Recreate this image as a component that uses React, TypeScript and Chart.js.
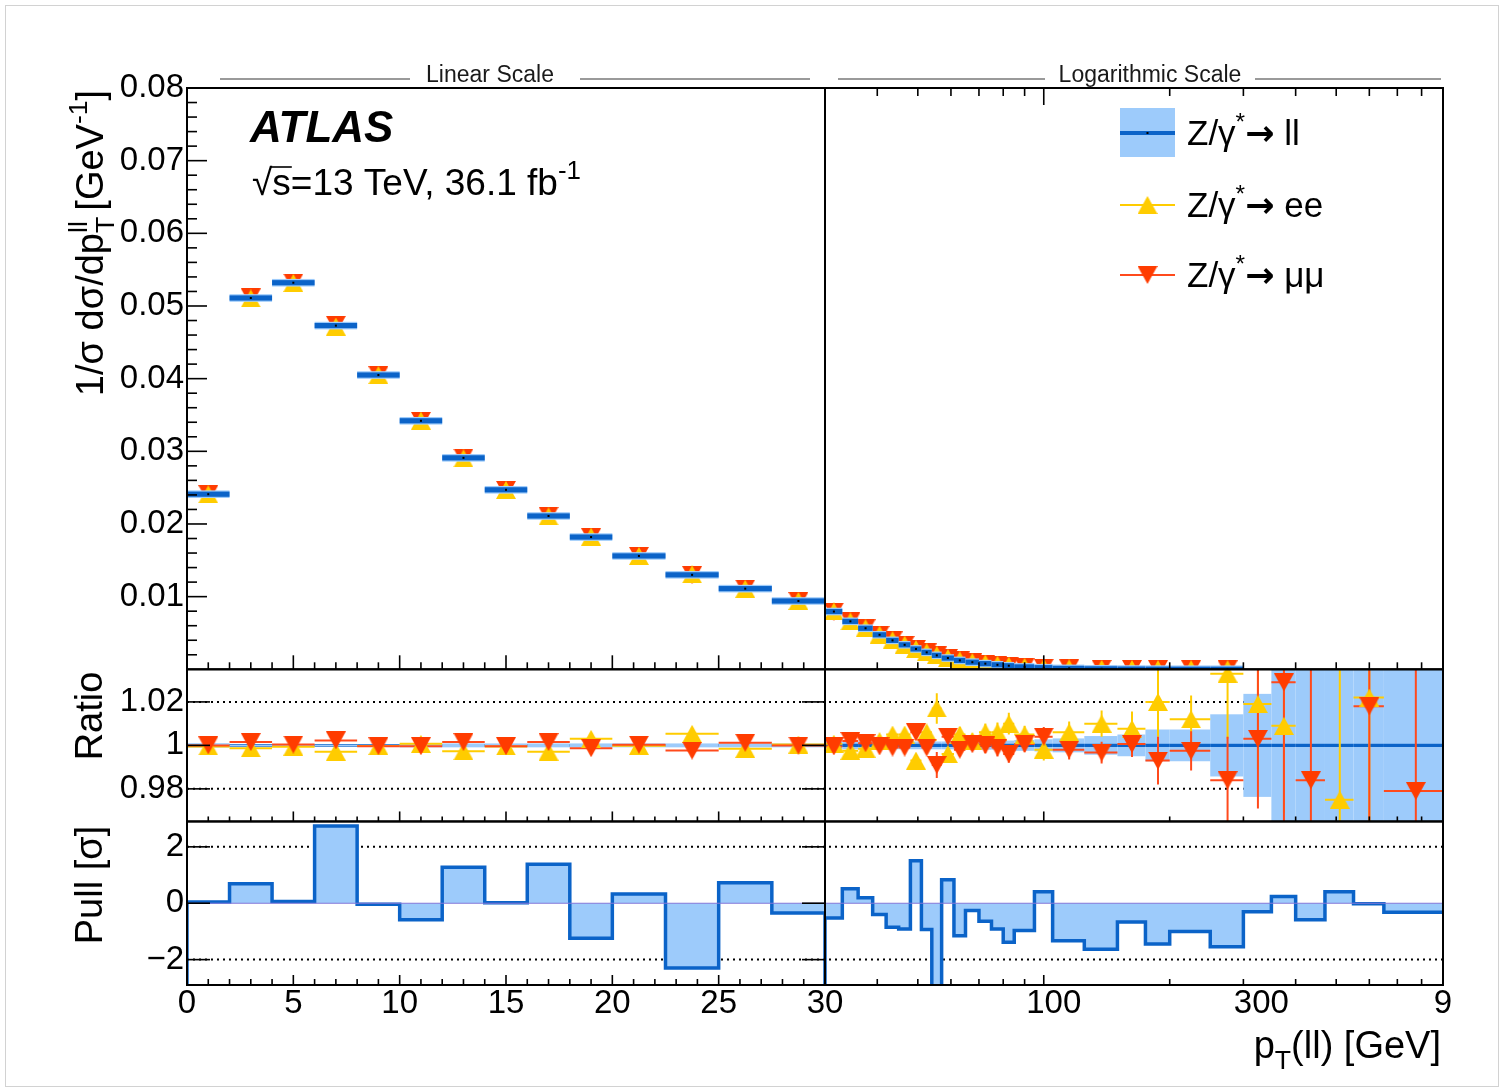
import React, { useEffect, useRef } from 'react';
import { Chart, registerables } from 'chart.js';

Chart.register(...registerables);

// ---------------- data ----------------
const LIN_EDGES = [0, 2, 4, 6, 8, 10, 12, 14, 16, 18, 20, 22.5, 25, 27.5, 30];
const LOG_EDGES = [30, 33, 36, 39, 42, 45, 48, 51, 54, 57, 61, 65, 70, 75, 80, 85, 95, 105, 125, 150, 175, 200, 250, 300, 350, 400, 470, 550, 650, 900];

// 1/sigma dsigma/dpT (combined ll)
const LL_LIN = [0.0241, 0.0511, 0.0532, 0.0473, 0.0405, 0.0342, 0.0291, 0.0247, 0.0211, 0.0182, 0.0156, 0.0130, 0.0111, 0.0094];
const LL_LOG = [0.00795, 0.0066, 0.00565, 0.00475, 0.00398, 0.00337, 0.0028, 0.00233, 0.00192, 0.00155, 0.00122, 0.00098, 0.00078, 0.00062, 0.00049, 0.00033, 0.00022, 0.000125, 0.000065, 0.000035, 0.00002, 0.00001, 0.0000055, 0.0000025, 0.0000012, 0.0000006, 0.00000028, 0.00000012, 0.00000003];

// ratios to combined
const RATIO_EE_LIN = [0.9995, 0.9987, 0.9994, 0.9971, 0.9997, 1.0007, 0.9973, 0.9995, 0.9971, 1.003, 0.9998, 1.0053, 0.9984, 1.0004];
const RATIO_MM_LIN = [1.0, 1.0015, 1.0004, 1.0023, 0.9996, 0.9996, 1.0015, 0.9996, 1.0015, 0.9987, 1.0003, 0.9976, 1.0012, 0.9999];
const ERR_EE_LIN = [0.0012, 0.0012, 0.0012, 0.0012, 0.0012, 0.0012, 0.0012, 0.0012, 0.0012, 0.0012, 0.0012, 0.0012, 0.0012, 0.0012];
const ERR_MM_LIN = [0.001, 0.001, 0.001, 0.001, 0.001, 0.001, 0.001, 0.001, 0.001, 0.001, 0.001, 0.001, 0.001, 0.001];

const RATIO_EE_LOG = [1.0008, 0.9975, 0.9985, 1.002, 1.005, 1.005, 0.993, 1.006, 1.017, 0.996, 1.005, 1.002, 1.006, 1.006, 1.01, 1.005, 0.998, 1.006, 1.01, 1.0076, 1.02, 1.012, 1.033, 1.019, 1.009, 1.12, 0.975, 1.022, 1.25];
const RATIO_MM_LOG = [0.9995, 1.002, 1.001, 0.9995, 0.999, 0.999, 1.006, 0.999, 0.991, 1.004, 0.998, 1.0005, 1.0, 0.999, 0.996, 1.0006, 1.004, 0.998, 0.9967, 1.0006, 0.993, 0.9975, 0.984, 1.003, 1.029, 0.984, 1.12, 1.018, 0.979];
const ERR_EE_LOG = [0.0015, 0.0015, 0.0015, 0.0015, 0.0015, 0.002, 0.003, 0.003, 0.007, 0.003, 0.0035, 0.0035, 0.004, 0.0045, 0.005, 0.004, 0.005, 0.005, 0.006, 0.008, 0.016, 0.011, 0.03, 0.03, 0.04, 0.05, 0.09, 0.12, 0.1];
const ERR_MM_LOG = [0.0012, 0.0012, 0.0012, 0.0012, 0.0013, 0.0015, 0.002, 0.0025, 0.006, 0.0025, 0.003, 0.003, 0.0035, 0.004, 0.004, 0.0035, 0.0045, 0.0045, 0.005, 0.006, 0.011, 0.009, 0.02, 0.032, 0.065, 0.07, 0.05, 0.1, 0.16];

// uncertainty band of the combined result (ratio panel)
const BAND_LIN = [0.001, 0.0003, 0.0003, 0.0003, 0.0003, 0.0009, 0.0009, 0.0009, 0.0009, 0.0009, 0.0009, 0.0009, 0.0009, 0.0009];
const BAND_LOG = [0.0018, 0.0018, 0.0018, 0.0018, 0.0018, 0.0018, 0.0018, 0.0018, 0.0018, 0.0018, 0.0018, 0.002, 0.002, 0.002, 0.0022, 0.0025, 0.0028, 0.0032, 0.0043, 0.005, 0.0073, 0.0073, 0.0143, 0.0237, 0.06, 0.07, 0.08, 0.1, 0.15];

// pull ee vs mumu
const PULL_LIN = [0.04, 0.69, 0.06, 2.74, -0.04, -0.59, 1.28, 0.02, 1.38, -1.24, 0.33, -2.3, 0.73, -0.35];
const PULL_LOG = [-0.52, 0.51, 0.19, -0.4, -0.85, -0.91, 1.51, -0.93, -3.5, 0.83, -1.15, -0.26, -0.64, -0.91, -1.38, -0.97, 0.41, -1.33, -1.63, -0.67, -1.45, -1.0, -1.54, -0.3, 0.24, -0.59, 0.41, -0.02, -0.32];

// axes / ticks
const MAIN_RANGE = [0, 0.08];
const RATIO_RANGE = [0.965, 1.035];
const PULL_RANGE = [-2.9, 2.9];
const MAIN_SHOWN_MIN = 5e-6;
const MAIN_Y_VALUES = [0.01, 0.02, 0.03, 0.04, 0.05, 0.06, 0.07, 0.08];
const MAIN_Y_LABELS = ['0.01', '0.02', '0.03', '0.04', '0.05', '0.06', '0.07', '0.08'];
const RATIO_Y_VALUES = [0.98, 1, 1.02];
const RATIO_Y_LABELS = ['0.98', '1', '1.02'];
const PULL_Y_VALUES = [-2, 0, 2];
const PULL_Y_LABELS = ['\u22122', '0', '2'];
const RATIO_GRID = [0.98, 1.02];
const PULL_GRID = [-2, 2];
const X_LIN_LABEL_VALUES = [0, 5, 10, 15, 20, 25, 30];
const X_LIN_LABELS = ['0', '5', '10', '15', '20', '25', '30'];
const X_LOG_LABEL_VALUES = [100, 300, 900];
const X_LOG_LABELS = ['100', '300', '9'];
const X_LOG_MAJOR = [100];
const X_LOG_MINOR = [40, 50, 60, 70, 80, 90, 200, 300, 400, 500, 600, 700, 800];

// ---------------- style ----------------
const FONT = "'Liberation Sans', Arial, 'DejaVu Sans', sans-serif";
const C_DARK = '#0b63c8';
const C_LIGHT = '#9dcbfb';
const C_EE = '#ffcc00';
const C_MM = '#ff3c00';
const C_MM_LINE = '#ff4a1c';
const LOG_LABEL_NUDGE = [10, 18, 0];
const MARK_W = 20;
const MARK_H = 18;

function centers(edges: number[]) {
  return edges.slice(0, -1).map((e, i) => (e + edges[i + 1]) / 2);
}

function triCanvas(color: string, up: boolean) {
  const c = document.createElement('canvas');
  c.width = MARK_W;
  c.height = MARK_H;
  const g = c.getContext('2d')!;
  g.fillStyle = color;
  g.beginPath();
  if (up) {
    g.moveTo(MARK_W / 2, 0); g.lineTo(MARK_W, MARK_H); g.lineTo(0, MARK_H);
  } else {
    g.moveTo(0, 0); g.lineTo(MARK_W, 0); g.lineTo(MARK_W / 2, MARK_H);
  }
  g.closePath();
  g.fill();
  return c;
}

type Part = { t: string; k?: 'sub' | 'sup'; adv?: boolean; f?: string };

function partFont(p: Part, size: number, pre: string) {
  const fs = p.k ? size * 0.7 : size;
  return p.f ? p.f.replace('#', String(fs)) : `${pre}${fs}px ${FONT}`;
}

function drawRich(ctx: CanvasRenderingContext2D, parts: Part[], x: number, y: number, size: number, align: string, pre = '') {
  let w = 0;
  for (const p of parts) {
    ctx.font = partFont(p, size, pre);
    if (p.adv !== false) w += ctx.measureText(p.t).width;
  }
  let cx = align === 'left' ? x : align === 'center' ? x - w / 2 : x - w;
  ctx.textAlign = 'left';
  ctx.textBaseline = 'alphabetic';
  for (const p of parts) {
    ctx.font = partFont(p, size, pre);
    const dy = p.k === 'sub' ? size * 0.3 : p.k === 'sup' ? -size * 0.42 : 0;
    ctx.fillText(p.t, cx, y + dy);
    if (p.adv !== false) cx += ctx.measureText(p.t).width;
  }
  return w;
}

export default function App() {
  const ref = useRef<HTMLCanvasElement>(null);

  useEffect(() => {
    const canvas = ref.current!;
    const upEE = triCanvas(C_EE, true);
    const downMM = triCanvas(C_MM, false);

    const linC = centers(LIN_EDGES);
    const logC = centers(LOG_EDGES);

    const mainPts = (cs: number[], ll: number[], r: number[]) =>
      cs.map((x, i) => ({ x, y: ll[i] * r[i], ok: ll[i] >= MAIN_SHOWN_MIN }))
        .filter((p) => p.ok)
        .map((p) => ({ x: p.x, y: p.y }));
    const ratioPts = (cs: number[], r: number[]) =>
      cs.map((x, i) => ({ x, y: r[i] })).filter((p) => p.y >= RATIO_RANGE[0] && p.y <= RATIO_RANGE[1]);
    const histPts = (edges: number[], vals: number[], dropEnd: boolean) => {
      const pts: any[] = [{ x: edges[0], y: PULL_RANGE[0] }];
      vals.forEach((v, i) => pts.push({ x: edges[i], y: v }));
      pts.push({ x: edges[edges.length - 1], y: vals[vals.length - 1] });
      if (dropEnd) pts.push({ x: edges[edges.length - 1], y: PULL_RANGE[0] });
      return pts;
    };

    const marker = (data: any[], xID: string, yID: string, img: any, order: number, clip: any) => ({
      type: 'line',
      data,
      xAxisID: xID,
      yAxisID: yID,
      showLine: false,
      pointStyle: img,
      pointRadius: 10,
      pointHoverRadius: 10,
      pointBorderWidth: 0,
      order,
      clip,
    });
    const hist = (data: any[], xID: string) => ({
      type: 'line',
      data,
      xAxisID: xID,
      yAxisID: 'yPull',
      showLine: true,
      stepped: 'before',
      borderColor: C_DARK,
      borderWidth: 3.5,
      borderJoinStyle: 'miter',
      backgroundColor: C_LIGHT,
      fill: { value: 0 },
      pointRadius: 0,
      tension: 0,
      order: 10,
    });

    const rClip = { top: 12, bottom: 12, left: 0, right: 0 };

    const datasets: any[] = [
      marker(mainPts(linC, LL_LIN, RATIO_EE_LIN), 'xLin', 'yMain', upEE, 1, 0),
      marker(mainPts(logC, LL_LOG, RATIO_EE_LOG), 'xLog', 'yMain', upEE, 1, 0),
      marker(mainPts(linC, LL_LIN, RATIO_MM_LIN), 'xLin', 'yMain', downMM, 2, 0),
      marker(mainPts(logC, LL_LOG, RATIO_MM_LOG), 'xLog', 'yMain', downMM, 2, 0),
      marker(ratioPts(linC, RATIO_MM_LIN), 'xLin', 'yRatio', downMM, 1, rClip),
      marker(ratioPts(logC, RATIO_MM_LOG), 'xLog', 'yRatio', downMM, 1, rClip),
      marker(ratioPts(linC, RATIO_EE_LIN), 'xLin', 'yRatio', upEE, 2, rClip),
      marker(ratioPts(logC, RATIO_EE_LOG), 'xLog', 'yRatio', upEE, 2, rClip),
      hist(histPts(LIN_EDGES, PULL_LIN, true), 'xLin'),
      hist(histPts(LOG_EDGES, PULL_LOG, false), 'xLog'),
    ];

    const decor = {
      id: 'atlasDecor',
      beforeDraw(chart: any) {
        const ctx = chart.ctx;
        ctx.save();
        ctx.fillStyle = '#ffffff';
        ctx.fillRect(0, 0, chart.width, chart.height);
        ctx.strokeStyle = '#d2d2d2';
        ctx.lineWidth = 1;
        ctx.strokeRect(5.5, 5.5, 1493, 1081);
        ctx.restore();
      },
      beforeDatasetsDraw(chart: any) {
        const ctx: CanvasRenderingContext2D = chart.ctx;
        const S = chart.scales;
        const xL = S.xLin, xG = S.xLog, yR = S.yRatio, yP = S.yPull;
        const left = xL.left, right = xG.right;
        ctx.save();
        // dotted reference lines
        ctx.strokeStyle = '#000';
        ctx.lineWidth = 2;
        ctx.setLineDash([2, 4]);
        for (const v of RATIO_GRID) {
          const y = yR.getPixelForValue(v);
          ctx.beginPath(); ctx.moveTo(left, y); ctx.lineTo(right, y); ctx.stroke();
        }
        for (const v of PULL_GRID) {
          const y = yP.getPixelForValue(v);
          ctx.beginPath(); ctx.moveTo(left, y); ctx.lineTo(right, y); ctx.stroke();
        }
        ctx.setLineDash([]);

        // ratio band of combined
        ctx.beginPath();
        ctx.rect(left, yR.top, right - left, yR.bottom - yR.top);
        ctx.clip();
        const y1 = yR.getPixelForValue(1);
        for (let i = 0; i < LIN_EDGES.length - 1; i++) {
          const x0 = xL.getPixelForValue(LIN_EDGES[i]);
          const x1 = xL.getPixelForValue(LIN_EDGES[i + 1]);
          ctx.fillStyle = C_DARK;
          ctx.fillRect(x0, y1 - 1.3, x1 - x0, 2.6);
          const yt = yR.getPixelForValue(1 + BAND_LIN[i]);
          const yb = yR.getPixelForValue(1 - BAND_LIN[i]);
          ctx.fillStyle = C_LIGHT;
          ctx.fillRect(x0, yt, x1 - x0, yb - yt);
        }
        for (let i = 0; i < LOG_EDGES.length - 1; i++) {
          const x0 = xG.getPixelForValue(LOG_EDGES[i]);
          const x1 = xG.getPixelForValue(LOG_EDGES[i + 1]);
          const yt = yR.getPixelForValue(1 + BAND_LOG[i]);
          const yb = yR.getPixelForValue(1 - BAND_LOG[i]);
          ctx.fillStyle = C_LIGHT;
          ctx.fillRect(x0, yt, x1 - x0, yb - yt);
        }
        for (let i = 0; i < LOG_EDGES.length - 1; i++) {
          const x0 = xG.getPixelForValue(LOG_EDGES[i]);
          const x1 = xG.getPixelForValue(LOG_EDGES[i + 1]);
          ctx.fillStyle = C_DARK;
          ctx.fillRect(x0, y1 - 1.6, x1 - x0, 3.2);
        }

        // error bars of ee and mumu ratios
        const errs = (xs: any, edges: number[], vals: number[], e: number[], color: string) => {
          ctx.strokeStyle = color;
          ctx.lineWidth = 2;
          for (let i = 0; i < vals.length; i++) {
            const xc = xs.getPixelForValue((edges[i] + edges[i + 1]) / 2);
            const y = yR.getPixelForValue(vals[i]);
            ctx.beginPath();
            ctx.moveTo(xc, yR.getPixelForValue(vals[i] - e[i]));
            ctx.lineTo(xc, yR.getPixelForValue(vals[i] + e[i]));
            ctx.moveTo(xs.getPixelForValue(edges[i]), y);
            ctx.lineTo(xs.getPixelForValue(edges[i + 1]), y);
            ctx.stroke();
          }
        };
        errs(xL, LIN_EDGES, RATIO_EE_LIN, ERR_EE_LIN, C_EE);
        errs(xG, LOG_EDGES, RATIO_EE_LOG, ERR_EE_LOG, C_EE);
        errs(xL, LIN_EDGES, RATIO_MM_LIN, ERR_MM_LIN, C_MM_LINE);
        errs(xG, LOG_EDGES, RATIO_MM_LOG, ERR_MM_LOG, C_MM_LINE);
        ctx.restore();
      },
      afterDatasetsDraw(chart: any) {
        const ctx: CanvasRenderingContext2D = chart.ctx;
        const S = chart.scales;
        const xL = S.xLin, xG = S.xLog, yM = S.yMain, yR = S.yRatio, yP = S.yPull;
        const left = xL.left, right = xG.right, mid = xL.right;

        // combined ll result in the main panel
        ctx.save();
        ctx.beginPath();
        ctx.rect(left, yM.top, right - left, yM.bottom - yM.top);
        ctx.clip();
        const bars = (xs: any, edges: number[], vals: number[]) => {
          for (let i = 0; i < vals.length; i++) {
            if (vals[i] < MAIN_SHOWN_MIN) continue;
            const x0 = xs.getPixelForValue(edges[i]);
            const x1 = xs.getPixelForValue(edges[i + 1]);
            const y = yM.getPixelForValue(vals[i]);
            ctx.fillStyle = C_LIGHT;
            ctx.fillRect(x0, y - 3.8, x1 - x0, 7.6);
            ctx.fillStyle = C_DARK;
            ctx.fillRect(x0, y - 2.6, x1 - x0, 5.2);
            ctx.fillStyle = '#000';
            ctx.fillRect(xs.getPixelForValue((edges[i] + edges[i + 1]) / 2) - 1, y - 1, 2, 2);
          }
        };
        bars(xL, LIN_EDGES, LL_LIN);
        bars(xG, LOG_EDGES, LL_LOG);
        ctx.restore();

        ctx.save();
        // pull zero line
        ctx.strokeStyle = '#8577d8';
        ctx.lineWidth = 1.2;
        const y0 = yP.getPixelForValue(0);
        ctx.beginPath(); ctx.moveTo(left, y0); ctx.lineTo(right, y0); ctx.stroke();

        // frames
        ctx.strokeStyle = '#000';
        ctx.lineWidth = 2;
        for (const xs of [xL, xG]) {
          for (const ys of [yM, yR, yP]) {
            ctx.strokeRect(xs.left, ys.top, xs.right - xs.left, ys.bottom - ys.top);
          }
        }

        // ticks
        const vt = (x: number, y: number, len: number) => {
          ctx.beginPath(); ctx.moveTo(x, y); ctx.lineTo(x, y + len); ctx.stroke();
        };
        const ht = (x: number, y: number, len: number) => {
          ctx.beginPath(); ctx.moveTo(x, y); ctx.lineTo(x + len, y); ctx.stroke();
        };
        ctx.lineWidth = 1.6;
        const linMinor: number[] = [];
        for (let v = 1; v < 30; v++) if (v % 5 !== 0) linMinor.push(v);
        const panelTicks = [
          { ys: yM, maj: 14, min: 7 },
          { ys: yR, maj: 10, min: 5 },
          { ys: yP, maj: 10, min: 6 },
        ];
        for (const p of panelTicks) {
          for (const v of X_LIN_LABEL_VALUES) vt(xL.getPixelForValue(v), p.ys.bottom, -p.maj);
          for (const v of linMinor) vt(xL.getPixelForValue(v), p.ys.bottom, -p.min);
          for (const v of X_LOG_MAJOR) vt(xG.getPixelForValue(v), p.ys.bottom, -p.maj);
          for (const v of X_LOG_MINOR) vt(xG.getPixelForValue(v), p.ys.bottom, -p.min);
        }
        for (const v of X_LOG_MAJOR) vt(xG.getPixelForValue(v), yM.top, 17);
        for (const v of X_LOG_MINOR) vt(xG.getPixelForValue(v), yM.top, 8);

        // y ticks
        for (let i = 1; i < 40; i++) {
          const v = i * 0.002;
          const isMaj = i % 5 === 0;
          ht(left, yM.getPixelForValue(v), isMaj ? 20 : 10);
        }
        for (const v of RATIO_Y_VALUES) {
          ht(left, yR.getPixelForValue(v), 23);
          ht(mid, yR.getPixelForValue(v), -23);
        }
        for (const v of PULL_Y_VALUES) {
          ht(left, yP.getPixelForValue(v), 23);
          ht(mid, yP.getPixelForValue(v), -23);
        }

        // tick labels
        ctx.fillStyle = '#000';
        ctx.font = `33px ${FONT}`;
        ctx.textBaseline = 'middle';
        ctx.textAlign = 'right';
        MAIN_Y_VALUES.forEach((v, i) => ctx.fillText(MAIN_Y_LABELS[i], left - 3, yM.getPixelForValue(v)));
        RATIO_Y_VALUES.forEach((v, i) => ctx.fillText(RATIO_Y_LABELS[i], left - 3, yR.getPixelForValue(v)));
        PULL_Y_VALUES.forEach((v, i) => ctx.fillText(PULL_Y_LABELS[i], left - 3, yP.getPixelForValue(v)));
        ctx.textAlign = 'center';
        const yl = yP.bottom + 19;
        X_LIN_LABEL_VALUES.forEach((v, i) => ctx.fillText(X_LIN_LABELS[i], xL.getPixelForValue(v), yl));
        X_LOG_LABEL_VALUES.forEach((v, i) => ctx.fillText(X_LOG_LABELS[i], xG.getPixelForValue(v) + LOG_LABEL_NUDGE[i], yl));

        // axis titles
        ctx.save();
        ctx.translate(103, 243);
        ctx.rotate(-Math.PI / 2);
        drawRich(ctx, [
          { t: '1/\u03c3 d\u03c3/dp' },
          { t: 'T', k: 'sub', adv: false },
          { t: 'll', k: 'sup' },
          { t: ' [GeV' },
          { t: '-1', k: 'sup' },
          { t: ']' },
        ], 0, 0, 38, 'center');
        ctx.restore();
        ctx.save();
        ctx.translate(102, 716);
        ctx.rotate(-Math.PI / 2);
        drawRich(ctx, [{ t: 'Ratio' }], 0, 0, 38, 'center');
        ctx.restore();
        ctx.save();
        ctx.translate(102, 885);
        ctx.rotate(-Math.PI / 2);
        drawRich(ctx, [{ t: 'Pull [\u03c3]' }], 0, 0, 38, 'center');
        ctx.restore();
        drawRich(ctx, [{ t: 'p' }, { t: 'T', k: 'sub' }, { t: '(ll) [GeV]' }], 1441, 1058, 38, 'right');

        // scale headers
        ctx.strokeStyle = '#9a9a9a';
        ctx.lineWidth = 2;
        const hdr = (text: string, cx: number, a0: number, a1: number, b0: number, b1: number) => {
          ctx.beginPath(); ctx.moveTo(a0, 79); ctx.lineTo(a1, 79); ctx.moveTo(b0, 79); ctx.lineTo(b1, 79); ctx.stroke();
          ctx.fillStyle = '#1a1a1a';
          ctx.font = `23px ${FONT}`;
          ctx.textAlign = 'center';
          ctx.textBaseline = 'middle';
          ctx.fillText(text, cx, 76);
        };
        hdr('Linear Scale', 490, 220, 410, 580, 810);
        hdr('Logarithmic Scale', 1150, 838, 1045, 1255, 1441);

        // ATLAS label
        ctx.fillStyle = '#000';
        ctx.textAlign = 'left';
        ctx.textBaseline = 'alphabetic';
        ctx.font = `italic bold 44px ${FONT}`;
        ctx.fillText('ATLAS', 250, 142);
        const sz = 37;
        ctx.font = `${sz}px ${FONT}`;
        const wr = ctx.measureText('\u221a').width;
        const ws = ctx.measureText('s').width;
        drawRich(ctx, [{ t: '\u221as=13 TeV, 36.1 fb' }, { t: '-1', k: 'sup' }], 252, 195, sz, 'left');
        ctx.strokeStyle = '#000';
        ctx.lineWidth = 1.6;
        ctx.beginPath();
        ctx.moveTo(252 + wr - 2, 167);
        ctx.lineTo(252 + wr + ws + 1, 167);
        ctx.stroke();

        // legend
        const lx0 = 1120, lx1 = 1175, lxm = 1147.5;
        ctx.fillStyle = C_LIGHT;
        ctx.fillRect(lx0, 108, lx1 - lx0, 49);
        ctx.fillStyle = C_DARK;
        ctx.fillRect(lx0, 131, lx1 - lx0, 4);
        ctx.fillStyle = '#000';
        ctx.fillRect(lxm - 1, 132, 2, 2);
        ctx.lineWidth = 2.2;
        ctx.strokeStyle = C_EE;
        ctx.beginPath(); ctx.moveTo(lx0, 205); ctx.lineTo(lx1, 205); ctx.stroke();
        ctx.drawImage(upEE, lxm - MARK_W / 2, 205 - MARK_H / 2);
        ctx.strokeStyle = C_MM_LINE;
        ctx.beginPath(); ctx.moveTo(lx0, 275); ctx.lineTo(lx1, 275); ctx.stroke();
        ctx.drawImage(downMM, lxm - MARK_W / 2, 275 - MARK_H / 2);
        ctx.fillStyle = '#000';
        const leg = (y: number, tail: string) =>
          drawRich(ctx, [
            { t: 'Z/\u03b3' },
            { t: '*', k: 'sup' },
            { t: '\u2192', f: "bold #px 'DejaVu Sans', sans-serif" },
            { t: ' ' + tail },
          ], 1187, y + 12, 35, 'left');
        leg(133, 'll');
        leg(205, 'ee');
        leg(275, '\u03bc\u03bc');
        ctx.restore();
      },
    };

    const chart = new Chart(canvas, {
      type: 'line',
      data: { datasets },
      options: {
        animation: false,
        responsive: false,
        devicePixelRatio: 1,
        events: [],
        layout: { padding: { left: 187, right: 62, top: 88, bottom: 105 } },
        plugins: { legend: { display: false }, tooltip: { enabled: false } },
        scales: {
          xLin: { type: 'linear', axis: 'x', position: 'bottom', min: 0, max: 30, stack: 'xs', stackWeight: 638, display: false },
          xLog: { type: 'logarithmic', axis: 'x', position: 'bottom', min: 30, max: 900, stack: 'xs', stackWeight: 618, display: false },
          yMain: { type: 'linear', axis: 'y', position: 'right', min: MAIN_RANGE[0], max: MAIN_RANGE[1], stack: 'ys', stackWeight: 581.5, display: false },
          yRatio: { type: 'linear', axis: 'y', position: 'right', min: RATIO_RANGE[0], max: RATIO_RANGE[1], stack: 'ys', stackWeight: 152.2, display: false },
          yPull: { type: 'linear', axis: 'y', position: 'right', min: PULL_RANGE[0], max: PULL_RANGE[1], stack: 'ys', stackWeight: 163.6, display: false },
        },
      } as any,
      plugins: [decor as any],
    } as any);

    return () => chart.destroy();
  }, []);

  return (
    <div style={{ position: 'absolute', left: 0, top: 0, width: 1505, height: 1090, background: '#fff' }}>
      <canvas ref={ref} width={1505} height={1090} style={{ display: 'block', width: 1505, height: 1090 }} />
    </div>
  );
}
